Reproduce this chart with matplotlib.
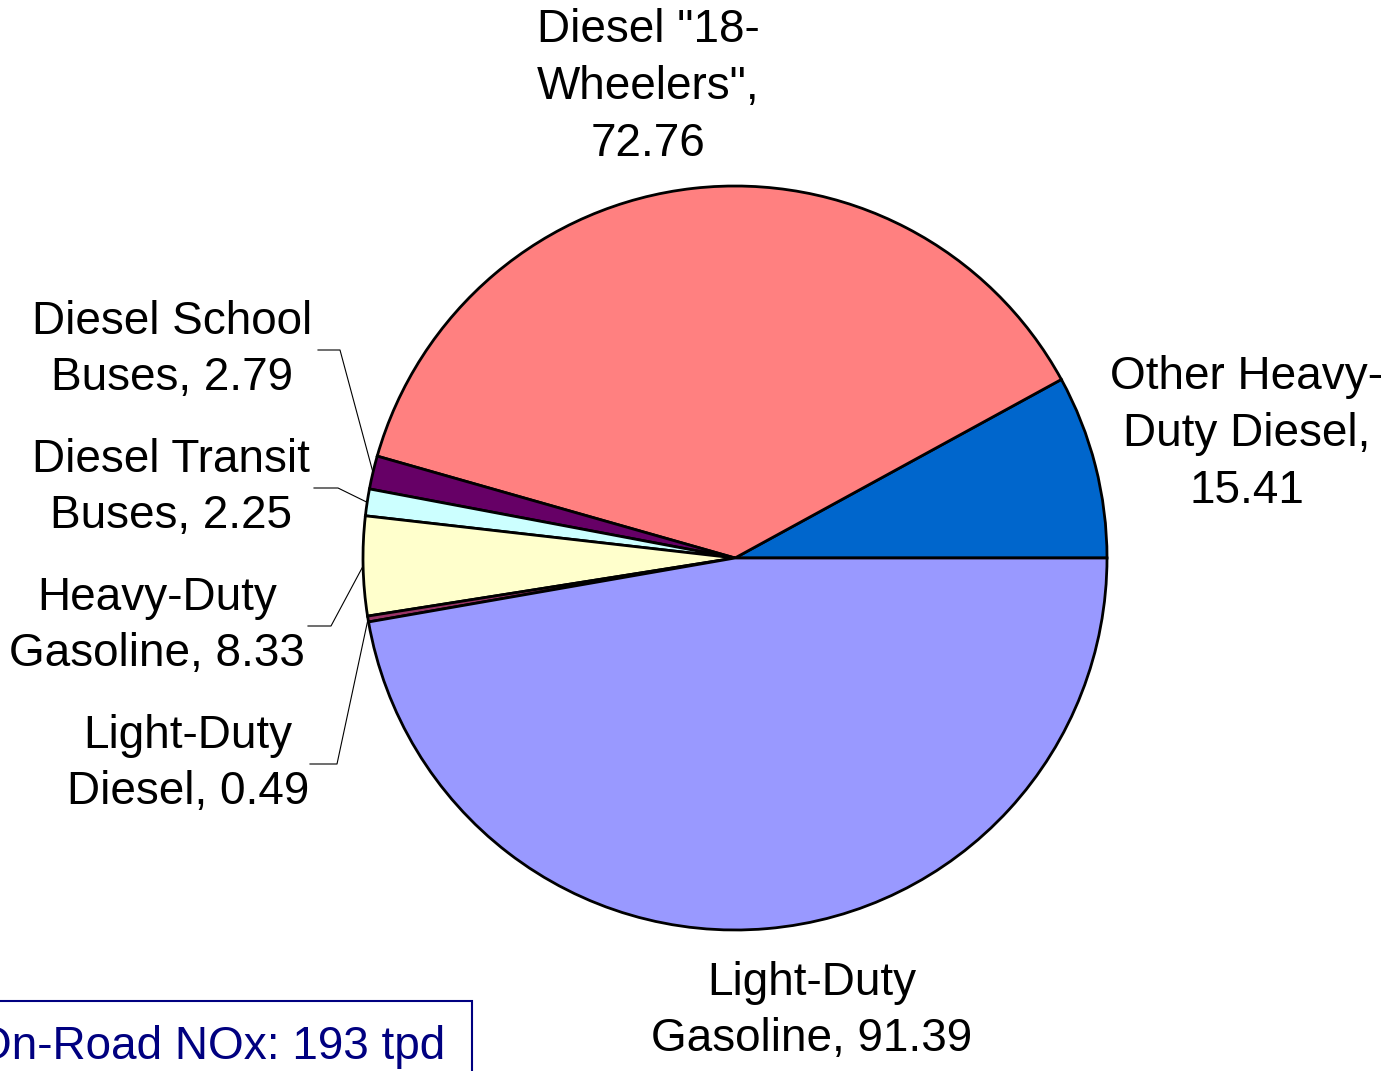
import numpy as np
import matplotlib
matplotlib.use("Agg")
import matplotlib.pyplot as plt
from matplotlib.patches import Rectangle

plt.rcParams['font.family'] = ['Liberation Sans', 'DejaVu Sans']

# On-road NOx by vehicle class (tpd)
categories = ['Other Heavy-Duty Diesel', 'Diesel "18-Wheelers"', 'Diesel School Buses',
              'Diesel Transit Buses', 'Heavy-Duty Gasoline', 'Light-Duty Diesel',
              'Light-Duty Gasoline']
values = [15.41, 72.76, 2.79, 2.25, 8.33, 0.49, 91.39]
colors = ['#0066CC', '#FF8080', '#660066', '#CCFFFF', '#FFFFCC', '#993366', '#9999FF']
label_text = ['Other Heavy-\nDuty Diesel,\n15.41', 'Diesel "18-\nWheelers",\n72.76',
              'Diesel School\nBuses, 2.79', 'Diesel Transit\nBuses, 2.25',
              'Heavy-Duty\nGasoline, 8.33', 'Light-Duty\nDiesel, 0.49',
              'Light-Duty\nGasoline, 91.39']
total_text = 'On-Road NOx: 193 tpd'

# label layout in pixel coordinates (centre x, centre y), and leader elbows
label_pos = [(1247, 434), (648, 87), (172, 350), (171, 488), (157, 626), (188, 764), (812, 1011)]
leader = {2: (318, 340), 3: (314, 338), 4: (308, 331), 5: (310, 337)}

W, H = 1382, 1071
cx, cy, R = 735, 558, 372

fig = plt.figure(figsize=(W / 100, H / 100), dpi=100)
ax = fig.add_axes([0, 0, 1, 1])

wedges, _ = ax.pie(values, colors=colors, startangle=0, counterclock=False,
                   center=(cx, cy), radius=R,
                   wedgeprops=dict(edgecolor='black', linewidth=2.0))
ax.set_xlim(0, W)
ax.set_ylim(H, 0)
ax.axis('off')

fs = 33
for i, (x, y) in enumerate(label_pos):
    ax.text(x, y, label_text[i], ha='center', va='center', fontsize=fs,
            linespacing=1.38, color='black')

for i, (x0, xe) in leader.items():
    w = wedges[i]
    th = np.deg2rad((w.theta1 + w.theta2) / 2)
    px, py = cx + R * np.cos(th), cy + R * np.sin(th)
    ly = label_pos[i][1]
    ax.plot([x0, xe, px], [ly, ly, py], color='black', lw=0.8)

ax.add_patch(Rectangle((-10, 1001), 482, 100, fill=False, edgecolor='#000080',
                       linewidth=1.5, clip_on=False))
ax.text(445, 1047, total_text, ha='right', va='center', fontsize=fs, color='#000080')

fig.savefig('out.png', dpi=100)
